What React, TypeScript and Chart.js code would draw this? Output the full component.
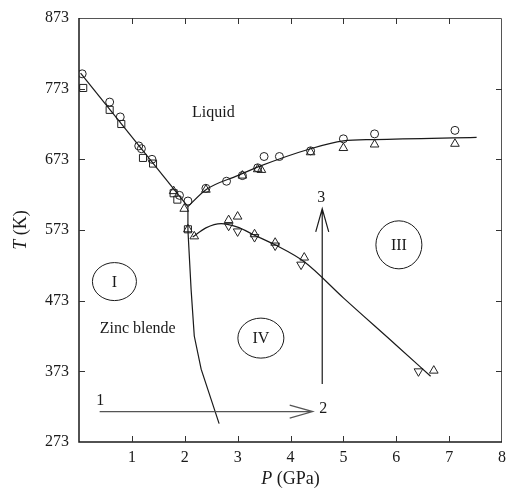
import { useEffect, useRef } from "react";
import { Chart, registerables } from "chart.js";

Chart.register(...registerables);

// ---- axis ticks ----
const xTicks = [1, 2, 3, 4, 5, 6, 7, 8];
const yTicks = [273, 373, 473, 573, 673, 773, 873];

// ---- measured data (P in GPa, T in K) ----
const circleP = [0.06, 0.58, 0.78, 1.13, 1.18, 1.38, 1.9, 2.06, 2.4, 2.79, 3.09, 3.38, 3.5, 3.79, 4.38, 5.0, 5.59, 7.11];
const circleT = [794, 754, 733, 692, 688, 673, 622, 614, 632, 642, 650, 661, 677, 677, 685, 702, 709, 714];

const squareP = [0.08, 0.58, 0.8, 1.21, 1.4, 1.79, 1.86, 2.06];
const squareT = [774, 743, 723, 675, 667, 625, 616, 574];

const triUpP = [1.79, 1.99, 2.06, 2.18, 2.4, 3.09, 3.38, 3.45, 4.38, 5.0, 5.59, 7.11, 2.83, 3.0, 3.32, 3.71, 4.26, 6.71];
const triUpT = [628, 603, 574, 564, 630, 650, 659, 658, 683, 689, 694, 695, 587, 592, 567, 555, 534, 374];

const triDownP = [2.83, 3.0, 3.32, 3.71, 4.2, 6.42];
const triDownT = [579, 571, 563, 551, 524, 373];

// ---- phase boundaries ----
const meltIP = [0.03, 2.06];
const meltIT = [795, 606];

const liquidusP = [2.06, 2.4, 3.0, 3.41, 4.38, 5.0, 5.59, 7.52];
const liquidusT = [606, 630, 650, 663, 688, 699, 701, 704];

const boundaryI_P = [2.06, 2.06, 2.07, 2.12, 2.18, 2.31, 2.65];
const boundaryI_T = [606, 573, 559, 489, 423, 376, 299];

const boundaryIV_P = [2.15, 2.4, 2.69, 3.0, 3.31, 3.71, 4.26, 5.0, 6.0, 6.65];
const boundaryIV_T = [563, 576, 582, 577, 566, 552, 528, 477, 410, 366];

// ---- annotations ----
const regionNames = ["I", "III", "IV"];
const regionP = [0.67, 6.05, 3.44];
const regionT = [500, 552, 420];

const phaseNames = ["Liquid", "Zinc blende"];
const phaseP = [2.54, 1.11];
const phaseT = [733, 427];

const pathNames = ["1", "2", "3"];
const pathLabelP = [0.4, 4.62, 4.58];
const pathLabelT = [325, 314, 612];

const arrow1P = [0.39, 4.42];
const arrow1T = [316, 316];
const arrow3P = [4.6, 4.6];
const arrow3T = [355, 603];

const FONT = "'Liberation Serif', 'DejaVu Serif', serif";
const INK = "#1a1a1a";

const toPts = (p: number[], t: number[]) => p.map((v, i) => ({ x: v, y: t[i] }));

const decor = {
  id: "phaseDecor",
  afterDraw(chart: any) {
    const { ctx, chartArea: a } = chart;
    const xs = chart.scales.x;
    const ys = chart.scales.y;
    const px = (v: number) => xs.getPixelForValue(v);
    const py = (v: number) => ys.getPixelForValue(v);
    ctx.save();

    // frame
    ctx.strokeStyle = "#555";
    ctx.lineWidth = 1;
    ctx.beginPath();
    ctx.moveTo(a.left, a.top + 0.5);
    ctx.lineTo(a.right - 0.5, a.top + 0.5);
    ctx.lineTo(a.right - 0.5, a.bottom);
    ctx.stroke();
    ctx.strokeStyle = INK;
    ctx.lineWidth = 1.5;
    ctx.beginPath();
    ctx.moveTo(a.left, a.top);
    ctx.lineTo(a.left, a.bottom);
    ctx.lineTo(a.right, a.bottom);
    ctx.stroke();

    // inward ticks
    const tl = 6;
    ctx.lineWidth = 1;
    ctx.strokeStyle = "#333";
    ctx.beginPath();
    xs.ticks.forEach((t: any) => {
      const x = Math.round(px(t.value)) + 0.5;
      if (x >= a.right - 1) return;
      ctx.moveTo(x, a.bottom);
      ctx.lineTo(x, a.bottom - tl);
      ctx.moveTo(x, a.top);
      ctx.lineTo(x, a.top + tl);
    });
    ys.ticks.forEach((t: any) => {
      const y = Math.round(py(t.value)) + 0.5;
      if (y <= a.top + 1 || y >= a.bottom - 1) return;
      ctx.moveTo(a.left, y);
      ctx.lineTo(a.left + tl, y);
      ctx.moveTo(a.right, y);
      ctx.lineTo(a.right - tl, y);
    });
    ctx.stroke();

    ctx.fillStyle = INK;
    ctx.textBaseline = "alphabetic";

    // axis titles
    const italic = `italic 18px ${FONT}`;
    const normal = `18px ${FONT}`;
    const drawMixed = (a1: string, b1: string, cx: number, cy: number) => {
      ctx.font = italic;
      const w1 = ctx.measureText(a1).width;
      ctx.font = normal;
      const w2 = ctx.measureText(b1).width;
      const start = cx - (w1 + w2) / 2;
      ctx.textAlign = "left";
      ctx.font = italic;
      ctx.fillText(a1, start, cy);
      ctx.font = normal;
      ctx.fillText(b1, start + w1, cy);
    };
    drawMixed("P", " (GPa)", (a.left + a.right) / 2, 484);
    ctx.save();
    ctx.translate(26, (a.top + a.bottom) / 2);
    ctx.rotate(-Math.PI / 2);
    drawMixed("T", " (K)", 0, 0);
    ctx.restore();

    // phase names
    ctx.font = `16px ${FONT}`;
    ctx.textAlign = "center";
    phaseNames.forEach((n, i) => ctx.fillText(n, px(phaseP[i]), py(phaseT[i])));

    // region ellipses
    const radii = [
      [22, 19],
      [23, 24],
      [23, 20],
    ];
    ctx.lineWidth = 1;
    ctx.strokeStyle = INK;
    ctx.textBaseline = "middle";
    regionNames.forEach((n, i) => {
      const cx = px(regionP[i]);
      const cy = py(regionT[i]);
      ctx.beginPath();
      ctx.ellipse(cx, cy, radii[i][0], radii[i][1], 0, 0, Math.PI * 2);
      ctx.stroke();
      ctx.fillText(n, cx, cy + 1);
    });

    // path labels
    ctx.textBaseline = "alphabetic";
    ctx.font = `16px ${FONT}`;
    pathNames.forEach((n, i) => ctx.fillText(n, px(pathLabelP[i]), py(pathLabelT[i])));

    // arrows
    const arrow = (x0: number, y0: number, x1: number, y1: number, color: string) => {
      ctx.strokeStyle = color;
      ctx.lineWidth = 1.2;
      ctx.beginPath();
      ctx.moveTo(x0, y0);
      ctx.lineTo(x1, y1);
      const ang = Math.atan2(y1 - y0, x1 - x0);
      const L = 23;
      const W = 6.5;
      const bx = x1 - L * Math.cos(ang);
      const by = y1 - L * Math.sin(ang);
      const nx = -Math.sin(ang) * W;
      const ny = Math.cos(ang) * W;
      ctx.moveTo(bx + nx, by + ny);
      ctx.lineTo(x1, y1);
      ctx.lineTo(bx - nx, by - ny);
      ctx.stroke();
    };
    arrow(px(arrow1P[0]), py(arrow1T[0]), px(arrow1P[1]), py(arrow1T[1]), "#555");
    arrow(px(arrow3P[0]), py(arrow3T[0]), px(arrow3P[1]), py(arrow3T[1]), INK);

    ctx.restore();
  },
};

export default function App() {
  const ref = useRef<HTMLCanvasElement | null>(null);

  useEffect(() => {
    if (!ref.current) return;
    const lineDs = (p: number[], t: number[], smooth: boolean) => ({
      data: toPts(p, t),
      showLine: true,
      borderColor: INK,
      borderWidth: 1.2,
      pointRadius: 0,
      fill: false,
      tension: smooth ? 0.4 : 0,
      cubicInterpolationMode: smooth ? "monotone" : "default",
    });
    const markDs = (p: number[], t: number[], style: string, r: number, rot = 0) => ({
      data: toPts(p, t),
      showLine: false,
      pointStyle: style,
      pointRadius: r,
      pointRotation: rot,
      pointBorderWidth: 1,
      pointBorderColor: "#222",
      pointBackgroundColor: "rgba(0,0,0,0)",
    });

    const chart = new Chart(ref.current, {
      type: "scatter",
      data: {
        datasets: [
          lineDs(meltIP, meltIT, false),
          lineDs(liquidusP, liquidusT, true),
          lineDs(boundaryI_P, boundaryI_T, false),
          lineDs(boundaryIV_P, boundaryIV_T, true),
          markDs(circleP, circleT, "circle", 4),
          markDs(squareP, squareT, "rect", 5),
          markDs(triUpP, triUpT, "triangle", 5),
          markDs(triDownP, triDownT, "triangle", 5, 180),
        ] as any,
      },
      options: {
        responsive: false,
        animation: false,
        events: [],
        layout: { padding: { left: 0, right: 4, top: 18, bottom: 0 } },
        plugins: { legend: { display: false }, tooltip: { enabled: false } },
        scales: {
          x: {
            type: "linear",
            min: 0,
            max: 8,
            afterBuildTicks: (s: any) => {
              s.ticks = xTicks.map((v) => ({ value: v }));
            },
            afterFit: (s: any) => {
              s.height = 51;
              s.paddingLeft = 0;
              s.paddingRight = 0;
            },
            grid: { display: false, drawTicks: false },
            border: { display: false },
            ticks: {
              autoSkip: false,
              maxRotation: 0,
              padding: 6,
              color: INK,
              font: { family: FONT, size: 16 },
            },
          },
          y: {
            type: "linear",
            min: 273,
            max: 873,
            afterBuildTicks: (s: any) => {
              s.ticks = yTicks.map((v) => ({ value: v }));
            },
            afterFit: (s: any) => {
              s.width = 79;
              s.paddingTop = 0;
              s.paddingBottom = 0;
            },
            grid: { display: false, drawTicks: false },
            border: { display: false },
            ticks: {
              autoSkip: false,
              padding: 10,
              color: INK,
              font: { family: FONT, size: 16 },
            },
          },
        },
      } as any,
      plugins: [decor],
    });
    return () => chart.destroy();
  }, []);

  return (
    <div style={{ position: "absolute", left: 0, top: 0, width: 508, height: 493, background: "#fff" }}>
      <canvas ref={ref} width={508} height={493} style={{ display: "block" }} />
    </div>
  );
}
